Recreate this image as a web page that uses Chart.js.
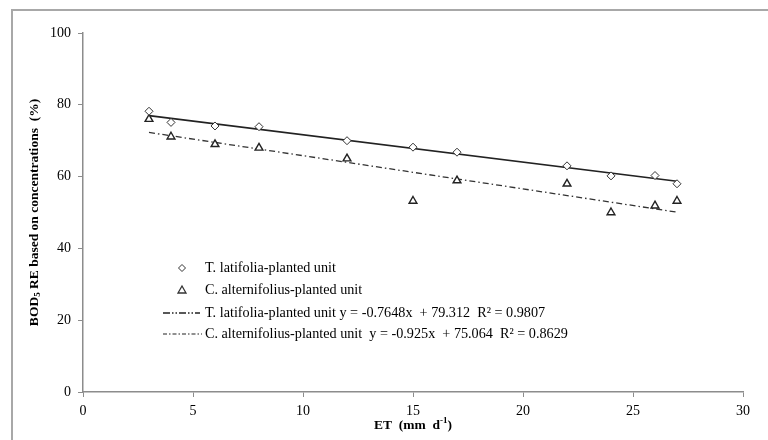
<!DOCTYPE html>
<html>
<head>
<meta charset="utf-8">
<script src="https://cdn.jsdelivr.net/npm/chart.js@4"></script>
<style>
  html, body { margin: 0; padding: 0; background: #ffffff; }
  #wrap { width: 768px; height: 440px; position: relative; }
</style>
</head>
<body>
<div id="wrap"><canvas id="c" width="768" height="440"></canvas></div>
<script>
// ---- data ----
const etValues = [3, 4, 6, 8, 12, 15, 17, 22, 24, 26, 27];
const reTlatifolia = [78.2, 75.1, 74.1, 73.9, 70.0, 68.2, 66.8, 63.0, 60.2, 60.3, 58.0];
const reCalternifolius = [76.0, 71.1, 69.0, 68.0, 65.0, 53.2, 58.9, 58.0, 50.0, 51.9, 53.2];
const trendX = [3, 27];
const trendTlatifolia = [77.0, 58.7];
const trendCalternifolius = [72.3, 50.1];
const xTicks = [0, 5, 10, 15, 20, 25, 30];
const yTicks = [0, 20, 40, 60, 80, 100];
const seriesLabels = [
  'T. latifolia-planted unit',
  'C. alternifolius-planted unit',
  'T. latifolia-planted unit y = -0.7648x  + 79.312  R² = 0.9807',
  'C. alternifolius-planted unit  y = -0.925x  + 75.064  R² = 0.8629'
];

const toPts = (xs, ys) => xs.map((x, i) => ({ x: x, y: ys[i] }));
const SERIF = '"Liberation Serif", "Times New Roman", serif';

const decorPlugin = {
  id: 'decor',
  beforeDraw(chart) {
    const ctx = chart.ctx;
    ctx.save();
    ctx.fillStyle = '#ffffff';
    ctx.fillRect(0, 0, chart.width, chart.height);
    ctx.strokeStyle = '#a8a8a8';
    ctx.lineWidth = 2;
    ctx.strokeRect(12, 10, 800, 500);
    ctx.restore();
  },
  afterDraw(chart) {
    const ctx = chart.ctx;
    const ds = chart.data.datasets;
    ctx.save();
    ctx.fillStyle = '#000';
    ctx.textBaseline = 'middle';
    ctx.font = '14.2px ' + SERIF;
    const rows = [268, 290, 313, 334];
    const symX = 182, textX = 205;
    // diamond
    ctx.strokeStyle = '#333';
    ctx.lineWidth = 1;
    ctx.beginPath();
    ctx.moveTo(symX, rows[0] - 3.5); ctx.lineTo(symX + 3.5, rows[0]);
    ctx.lineTo(symX, rows[0] + 3.5); ctx.lineTo(symX - 3.5, rows[0]); ctx.closePath();
    ctx.stroke();
    // triangle
    ctx.lineWidth = 1.3;
    ctx.beginPath();
    ctx.moveTo(symX, rows[1] - 4); ctx.lineTo(symX + 4, rows[1] + 3);
    ctx.lineTo(symX - 4, rows[1] + 3); ctx.closePath();
    ctx.stroke();
    // line symbols
    ctx.strokeStyle = '#222';
    ctx.lineWidth = 1.5;
    ctx.setLineDash([7, 2, 1.5, 2, 1.5, 2]);
    ctx.beginPath(); ctx.moveTo(163, rows[2]); ctx.lineTo(200, rows[2]); ctx.stroke();
    ctx.lineWidth = 1.2;
    ctx.setLineDash([4, 2, 1.5, 2]);
    ctx.beginPath(); ctx.moveTo(163, rows[3]); ctx.lineTo(202, rows[3]); ctx.stroke();
    ctx.setLineDash([]);
    for (let i = 0; i < 4; i++) {
      ctx.fillText(ds[i].label, textX, rows[i]);
    }
    // x axis title: ET (mm d-1)
    const area = chart.chartArea;
    const cx = (area.left + area.right) / 2;
    ctx.font = 'bold 13.5px ' + SERIF;
    const p1 = 'ET  (mm  d';
    const sup = '-1';
    const p3 = ')';
    const w1 = ctx.measureText(p1).width;
    ctx.font = 'bold 9px ' + SERIF;
    const ws = ctx.measureText(sup).width;
    ctx.font = 'bold 13.5px ' + SERIF;
    const w3 = ctx.measureText(p3).width;
    let x0 = cx - (w1 + ws + w3) / 2;
    const ty = 426;
    ctx.textAlign = 'left';
    ctx.fillText(p1, x0, ty);
    ctx.font = 'bold 9px ' + SERIF;
    ctx.fillText(sup, x0 + w1, ty - 5);
    ctx.font = 'bold 13.5px ' + SERIF;
    ctx.fillText(p3, x0 + w1 + ws, ty);
    // y axis title: BOD5 RE based on concentrations (%)
    ctx.save();
    ctx.translate(35, (area.top + area.bottom) / 2);
    ctx.rotate(-Math.PI / 2);
    const a1 = 'BOD', a2 = '5', a3 = ' RE based on concentrations  (%)';
    ctx.font = 'bold 13.5px ' + SERIF;
    const b1 = ctx.measureText(a1).width;
    const b3 = ctx.measureText(a3).width;
    ctx.font = 'bold 9px ' + SERIF;
    const b2 = ctx.measureText(a2).width;
    let s = -(b1 + b2 + b3) / 2;
    ctx.font = 'bold 13.5px ' + SERIF;
    ctx.fillText(a1, s, 0);
    ctx.font = 'bold 9px ' + SERIF;
    ctx.fillText(a2, s + b1, 3);
    ctx.font = 'bold 13.5px ' + SERIF;
    ctx.fillText(a3, s + b1 + b2, 0);
    ctx.restore();
    ctx.restore();
  }
};

new Chart(document.getElementById('c'), {
  type: 'scatter',
  data: {
    datasets: [
      {
        label: seriesLabels[0],
        data: toPts(etValues, reTlatifolia),
        pointStyle: 'rectRot',
        pointRadius: 4,
        pointBackgroundColor: '#ffffff',
        pointBorderColor: '#333333',
        pointBorderWidth: 1,
        order: 1
      },
      {
        label: seriesLabels[1],
        data: toPts(etValues, reCalternifolius),
        pointStyle: 'triangle',
        pointRadius: 4.5,
        pointBackgroundColor: '#ffffff',
        pointBorderColor: '#222222',
        pointBorderWidth: 1.4,
        order: 2
      },
      {
        label: seriesLabels[2],
        data: toPts(trendX, trendTlatifolia),
        showLine: true,
        pointRadius: 0,
        borderColor: '#222222',
        borderWidth: 1.7,
        order: 3
      },
      {
        label: seriesLabels[3],
        data: toPts(trendX, trendCalternifolius),
        showLine: true,
        pointRadius: 0,
        borderColor: '#333333',
        borderWidth: 1.3,
        borderDash: [6, 3, 1.5, 3],
        order: 4
      }
    ]
  },
  options: {
    responsive: false,
    animation: false,
    layout: { padding: { left: 0, top: 33, right: 25, bottom: 0 } },
    plugins: { legend: { display: false }, tooltip: { enabled: false } },
    scales: {
      x: {
        type: 'linear',
        min: 0, max: 30,
        afterBuildTicks: (sc) => { sc.ticks = xTicks.map(v => ({ value: v })); },
        afterFit: (sc) => { sc.height = 48; },
        grid: { display: true, drawOnChartArea: false, drawTicks: true, tickLength: 5, color: '#8c8c8c' },
        border: { display: true, color: '#8c8c8c', width: 1.5 },
        ticks: { color: '#000', font: { family: SERIF, size: 14 }, padding: 6 }
      },
      y: {
        type: 'linear',
        min: 0, max: 100,
        afterBuildTicks: (sc) => { sc.ticks = yTicks.map(v => ({ value: v })); },
        afterFit: (sc) => { sc.width = 83; },
        grid: { display: true, drawOnChartArea: false, drawTicks: true, tickLength: 5, color: '#8c8c8c' },
        border: { display: true, color: '#8c8c8c', width: 1.5 },
        ticks: { color: '#000', font: { family: SERIF, size: 14 }, padding: 7 }
      }
    }
  },
  plugins: [decorPlugin]
});
</script>
</body>
</html>
